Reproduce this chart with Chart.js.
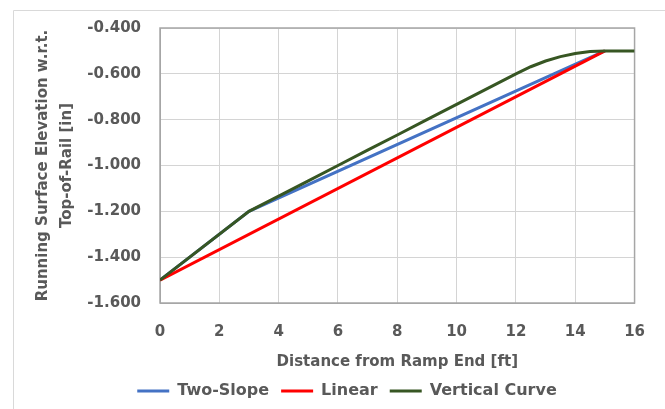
<!DOCTYPE html>
<html>
<head>
<meta charset="utf-8">
<script src="https://cdn.jsdelivr.net/npm/chart.js@4/dist/chart.umd.min.js"></script>
<style>
  html, body { margin: 0; padding: 0; background: #fff; }
  #wrap { width: 665px; height: 409px; }
</style>
</head>
<body>
<div id="wrap"><canvas id="elevChart"></canvas></div>
<script>
// distances [ft] and elevations [in]
const twoSlopeX = [0, 3, 15];
const twoSlopeY = [-1.5, -1.2, -0.5];

const linearX = [0, 15];
const linearY = [-1.5, -0.5];

const vertCurveX = [0, 3, 4, 5, 6, 7, 8, 9, 10, 11, 12, 12.5, 13, 13.5, 14, 14.5, 15, 16];
const vertCurveY = [-1.5, -1.2, -1.134, -1.067, -1.0, -0.933, -0.867, -0.8, -0.733, -0.667, -0.6, -0.569, -0.544, -0.525, -0.511, -0.503, -0.5, -0.5];

const xTicks = [0, 2, 4, 6, 8, 10, 12, 14, 16];
const yTicks = [-0.4, -0.6, -0.8, -1.0, -1.2, -1.4, -1.6];

const toPoints = (xs, ys) => xs.map((x, i) => ({ x: x, y: ys[i] }));

const textColor = '#595959';
const fontFamily = '"DejaVu Sans", sans-serif';

// light frame round the whole chart, and the darker plot outline
const frame = {
    id: 'frame',
    beforeDraw(chart) {
        const c = chart.ctx;
        c.save();
        c.strokeStyle = '#d9d9d9';
        c.lineWidth = 1;
        c.beginPath();
        c.moveTo(13.5, 420);
        c.lineTo(13.5, 10.5);
        c.lineTo(700, 10.5);
        c.stroke();
        c.restore();
    },
    beforeDatasetsDraw(chart) {
        const a = chart.chartArea;
        const c = chart.ctx;
        c.save();
        c.strokeStyle = '#a6a6a6';
        c.lineWidth = 1.5;
        c.strokeRect(a.left, a.top, a.right - a.left, a.bottom - a.top);
        c.restore();
    }
};

// nudge the legend a bit right, the Excel legend is centred on the frame
const legendShift = {
    id: 'legendShift',
    afterLayout(chart) {
        const lg = chart.legend;
        if (lg) {
            lg.left += 15;
            lg.right += 15;
        }
    }
};

const ctx = document.getElementById('elevChart');
new Chart(ctx, {
    type: 'scatter',
    data: {
        datasets: [
            {
                label: 'Two-Slope',
                data: toPoints(twoSlopeX, twoSlopeY),
                borderColor: '#4472C4',
                backgroundColor: '#4472C4',
                order: 3
            },
            {
                label: 'Linear',
                data: toPoints(linearX, linearY),
                borderColor: '#FF0000',
                backgroundColor: '#FF0000',
                order: 2
            },
            {
                label: 'Vertical Curve',
                data: toPoints(vertCurveX, vertCurveY),
                borderColor: '#375623',
                backgroundColor: '#375623',
                order: 1
            }
        ]
    },
    options: {
        responsive: true,
        maintainAspectRatio: false,
        animation: false,
        showLine: true,
        elements: {
            point: { radius: 0 },
            line: { borderWidth: 3, tension: 0 }
        },
        layout: { padding: { left: 16, top: 26, right: 17, bottom: 0 } },
        plugins: {
            tooltip: { enabled: false },
            legend: {
                position: 'bottom',
                labels: {
                    color: textColor,
                    font: { family: fontFamily, size: 16, weight: 'bold' },
                    boxWidth: 32,
                    boxHeight: 3,
                    padding: 12,
                    generateLabels: (chart) => Chart.defaults.plugins.legend.labels
                        .generateLabels(chart).map(l => ({ ...l, lineWidth: 0 })),
                    sort: (a, b) => a.datasetIndex - b.datasetIndex
                }
            }
        },
        scales: {
            x: {
                type: 'linear',
                min: 0,
                max: 16,
                afterBuildTicks: (s) => { s.ticks = xTicks.map(v => ({ value: v })); },
                afterFit: (s) => { s.height = 68; },
                ticks: {
                    color: textColor,
                    padding: 20,
                    maxRotation: 0,
                    font: { family: fontFamily, size: 15, weight: 'bold' }
                },
                grid: { color: '#d4d4d4', drawTicks: false },
                border: { color: '#a6a6a6' },
                title: {
                    display: true,
                    text: 'Distance from Ramp End [ft]',
                    color: textColor,
                    padding: { top: 0, bottom: 0 },
                    font: { family: fontFamily, size: 15, weight: 'bold' }
                }
            },
            y: {
                min: -1.6,
                max: -0.4,
                afterBuildTicks: (s) => { s.ticks = yTicks.map(v => ({ value: v })); },
                afterFit: (s) => { s.width = 160 - 16; },
                ticks: {
                    color: textColor,
                    padding: 19,
                    font: { family: fontFamily, size: 15, weight: 'bold' },
                    callback: (v) => v.toFixed(3)
                },
                grid: { color: '#d4d4d4', drawTicks: false },
                border: { color: '#a6a6a6' },
                title: {
                    display: true,
                    text: ['Running Surface Elevation w.r.t.', 'Top-of-Rail [in]'],
                    color: textColor,
                    padding: { top: 15, bottom: 0 },
                    font: { family: fontFamily, size: 15, weight: 'bold', lineHeight: 1.6 }
                }
            }
        }
    },
    plugins: [frame, legendShift]
});
</script>
</body>
</html>
